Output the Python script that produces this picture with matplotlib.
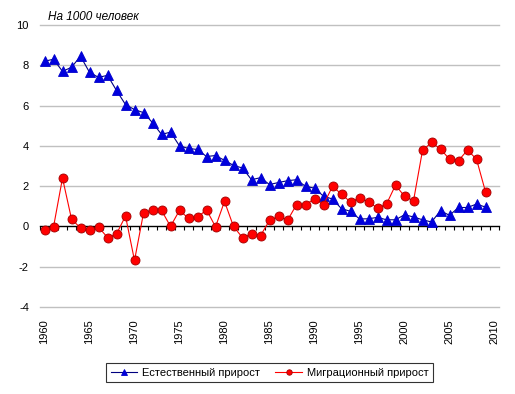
import numpy as np
import matplotlib
matplotlib.use("Agg")
import matplotlib.pyplot as plt

plt.rcParams['font.family'] = ['Liberation Sans', 'DejaVu Sans']

years = list(range(1960, 2010))

natural = [8.2, 8.3, 7.7, 7.9, 8.45, 7.65, 7.4, 7.5, 6.75, 6.05,
           5.8, 5.65, 5.15, 4.57, 4.68, 4.0, 3.87, 3.82, 3.47, 3.52,
           3.28, 3.03, 2.9, 2.32, 2.42, 2.08, 2.18, 2.27, 2.32, 1.99,
           1.9, 1.5, 1.36, 0.88, 0.75, 0.37, 0.38, 0.45, 0.33, 0.33,
           0.58, 0.47, 0.33, 0.22, 0.78, 0.55, 0.94, 0.94, 1.11, 0.96]

migration = [-0.16, -0.03, 2.4, 0.37, -0.08, -0.18, -0.03, -0.55, -0.38, 0.52,
             -1.69, 0.66, 0.84, 0.8, 0.0, 0.8, 0.4, 0.45, 0.83, -0.02,
             1.24, 0.0, -0.56, -0.36, -0.46, 0.3, 0.5, 0.3, 1.08, 1.08,
             1.37, 1.08, 1.99, 1.6, 1.21, 1.42, 1.22, 0.91, 1.11, 2.05,
             1.5, 1.27, 3.77, 4.17, 3.84, 3.34, 3.27, 3.79, 3.34, 1.72]

year_labels = list(range(1960, 2011, 5))
y_ticks = [-4, -2, 0, 2, 4, 6, 8, 10]

fig = plt.figure(figsize=(5.15, 3.94), dpi=100)
ax = fig.add_axes([40 / 515, 87 / 394, 459 / 515, 282 / 394])

# gridlines (except zero, which is the axis line)
for y in y_ticks:
    if y != 0:
        ax.axhline(y, color='#c0c0c0', lw=1.0, zorder=0, clip_on=False)

ax.plot(years, natural, color='#000080', lw=0.8, marker='^', ms=6.5,
        mfc='#0000dd', mec='#0000cc', mew=0.6, label='Естественный прирост', zorder=3)
ax.plot(years, migration, color='#ff0000', lw=0.8, marker='o', ms=6.5,
        mfc='#ff0000', mec='#a00000', mew=0.6, label='Миграционный прирост', zorder=4)

ax.set_xlim(1959.5, 2010.5)
ax.set_ylim(-4, 10)

for s in ['top', 'right', 'left']:
    ax.spines[s].set_visible(False)
ax.spines['bottom'].set_position(('data', 0))
ax.spines['bottom'].set_color('black')
ax.spines['bottom'].set_linewidth(1.0)
ax.spines['bottom'].set_zorder(2)

ax.set_xticks(np.arange(1959.5, 2011, 1.0))
ax.set_xticklabels([])
ax.tick_params(axis='x', direction='out', length=3, width=0.8, color='black')

ax.set_yticks(y_ticks)
ax.set_yticklabels([str(v) for v in y_ticks], fontsize=8)
ax.tick_params(axis='y', length=0, pad=8)

for yr in year_labels:
    ax.text(yr, -0.043, str(yr), transform=ax.get_xaxis_transform(),
            rotation=90, ha='center', va='top', fontsize=8)

fig.text(48 / 515, 1 - 17 / 394, 'На 1000 человек',
         ha='left', va='center', fontsize=8.5, style='italic')

leg = fig.legend(loc='center', bbox_to_anchor=(269.5 / 515, (394 - 372.5) / 394),
                 ncol=2, fontsize=8, frameon=True, fancybox=False,
                 handlelength=2.4, markerscale=0.6, columnspacing=1.4,
                 borderpad=0.4, handletextpad=0.4)
leg.get_frame().set_edgecolor('black')
leg.get_frame().set_linewidth(0.8)

plt.savefig('out.png', dpi=100)
